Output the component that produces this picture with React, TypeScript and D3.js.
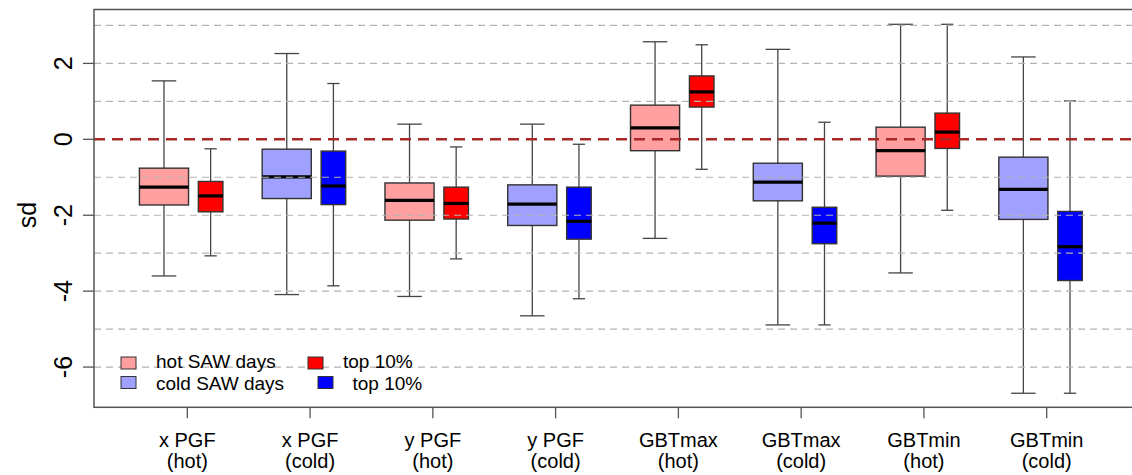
import React from "react";
import * as d3 from "d3";

const categories = ["x PGF|(hot)", "x PGF|(cold)", "y PGF|(hot)", "y PGF|(cold)", "GBTmax|(hot)", "GBTmax|(cold)", "GBTmin|(hot)", "GBTmin|(cold)"];
const groupType = ["hot", "cold", "hot", "cold", "hot", "cold", "hot", "cold"];
// [lower whisker, Q1, median, Q3, upper whisker]
const allDays = [
  [-3.60, -1.73, -1.26, -0.76, 1.54],
  [-4.09, -1.56, -0.99, -0.26, 2.26],
  [-4.14, -2.13, -1.61, -1.15, 0.40],
  [-4.65, -2.27, -1.71, -1.20, 0.40],
  [-2.61, -0.30, 0.30, 0.90, 2.57],
  [-4.89, -1.62, -1.13, -0.63, 2.37],
  [-3.52, -0.97, -0.30, 0.32, 3.03],
  [-6.69, -2.11, -1.32, -0.47, 2.17],
];
const top10 = [
  [-3.07, -1.91, -1.49, -1.11, -0.25],
  [-3.86, -1.72, -1.23, -0.31, 1.47],
  [-3.15, -2.10, -1.69, -1.26, -0.20],
  [-4.20, -2.63, -2.16, -1.26, -0.13],
  [-0.79, 0.85, 1.25, 1.67, 2.49],
  [-4.89, -2.75, -2.21, -1.79, 0.45],
  [-1.87, -0.24, 0.19, 0.69, 3.03],
  [-6.69, -3.72, -2.83, -1.90, 1.01],
];
const yTicks = [-6, -4, -2, 0, 2];
const gridValues = [-6, -5, -4, -3, -2, -1, 1, 2, 3];
const legendItems = [
  { label: "hot SAW days", key: "hotAll" },
  { label: "cold SAW days", key: "coldAll" },
  { label: "top 10%", key: "hotTop" },
  { label: "top 10%", key: "coldTop" },
];

const colors: Record<string, string> = {
  hotAll: "#ff9f9f",
  coldAll: "#a0a0ff",
  hotTop: "#ff0000",
  coldTop: "#0000ff",
};

const FONT = "'Liberation Sans', Arial, Helvetica, sans-serif";

export default function App() {
  const W = 1132, H = 475;
  const left = 94, right = 1140, top = 9.5, bottom = 407.3;
  const x = d3.scaleLinear().domain([0.24, 8.76]).range([left, right]);
  const y = d3.scaleLinear().domain([-7.06, 3.42]).range([bottom, top]);

  const boxes: any[] = [];
  categories.forEach((c, i) => {
    const t = groupType[i];
    boxes.push({ pos: i + 1 - 0.19, w: 0.4, s: allDays[i], fill: colors[t === "hot" ? "hotAll" : "coldAll"] });
    boxes.push({ pos: i + 1 + 0.19, w: 0.2, s: top10[i], fill: colors[t === "hot" ? "hotTop" : "coldTop"] });
  });

  const unit = x(1) - x(0);

  return (
    <svg width={W} height={H} style={{ position: "absolute", left: 0, top: 0, background: "#fff" }} fontFamily={FONT}>
      {/* boxes */}
      {boxes.map((b, i) => {
        const cx = x(b.pos);
        const bw = b.w * unit;
        const cap = bw / 2;
        const [lo, q1, med, q3, hi] = b.s;
        return (
          <g key={i}>
            <line x1={cx} x2={cx} y1={y(hi)} y2={y(q3)} stroke="#444" strokeWidth={1.3} />
            <line x1={cx} x2={cx} y1={y(q1)} y2={y(lo)} stroke="#444" strokeWidth={1.3} />
            <line x1={cx - cap / 2} x2={cx + cap / 2} y1={y(hi)} y2={y(hi)} stroke="#444" strokeWidth={1.3} />
            <line x1={cx - cap / 2} x2={cx + cap / 2} y1={y(lo)} y2={y(lo)} stroke="#444" strokeWidth={1.3} />
            <rect x={cx - bw / 2} y={y(q3)} width={bw} height={y(q1) - y(q3)} fill={b.fill} stroke="#333" strokeWidth={1.4} />
            <line x1={cx - bw / 2} x2={cx + bw / 2} y1={y(med)} y2={y(med)} stroke="#000" strokeWidth={3.2} />
          </g>
        );
      })}
      {/* grid */}
      {gridValues.map((g) => (
        <line key={g} x1={left} x2={right} y1={y(g)} y2={y(g)} stroke="#b3b3b3" strokeWidth={1.2} strokeDasharray="7,5" />
      ))}
      <line x1={left} x2={right} y1={y(0)} y2={y(0)} stroke="#a82828" strokeWidth={2.5} strokeDasharray="11,7" />
      {/* frame */}
      <rect x={left} y={top} width={right - left} height={bottom - top} fill="none" stroke="#555" strokeWidth={1.5} />
      {/* y axis */}
      {yTicks.map((t) => (
        <g key={t}>
          <line x1={left - 11} x2={left} y1={y(t)} y2={y(t)} stroke="#555" strokeWidth={1.3} />
          <text transform={`translate(72,${y(t)}) rotate(-90)`} textAnchor="middle" fontSize={25} fill="#000">{t}</text>
        </g>
      ))}
      <text transform={`translate(36,215) rotate(-90)`} textAnchor="middle" fontSize={25} fill="#000">sd</text>
      {/* x axis */}
      {categories.map((c, i) => {
        const [l1, l2] = c.split("|");
        const tx = x(i + 1);
        return (
          <g key={c}>
            <line x1={tx} x2={tx} y1={bottom} y2={bottom + 11} stroke="#555" strokeWidth={1.3} />
            <text x={tx} y={446.5} textAnchor="middle" fontSize={20} fill="#000">{l1}</text>
            <text x={tx} y={468} textAnchor="middle" fontSize={20} fill="#000">{l2}</text>
          </g>
        );
      })}
      {/* legend */}
      {legendItems.map((it, i) => {
        const col = Math.floor(i / 2);
        const row = i % 2;
        const sx = col === 0 ? 121 : (row === 0 ? 308 : 318);
        const tx = col === 0 ? 156 : (row === 0 ? 343 : 352.5);
        const sy = row === 0 ? 357 : 376.5;
        const by = row === 0 ? 368 : 389.5;
        return (
          <g key={i}>
            <rect x={sx} y={sy} width={15} height={12} fill={colors[it.key]} stroke="#333" strokeWidth={1} />
            <text x={tx} y={by} fontSize={19} fill="#000">{it.label}</text>
          </g>
        );
      })}
    </svg>
  );
}
